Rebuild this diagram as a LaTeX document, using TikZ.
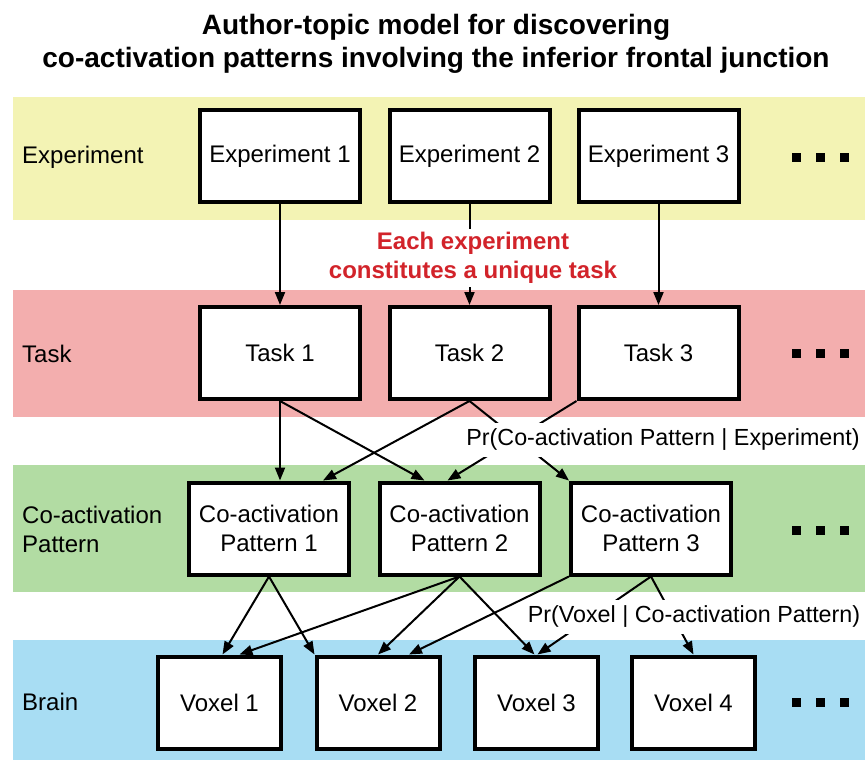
\documentclass[tikz,border=0pt]{standalone}
\usepackage{fontspec}
\setmainfont{Liberation Sans}
\usetikzlibrary{arrows.meta,calc}
\definecolor{yellowbg}{HTML}{F3F3B4}
\definecolor{redbg}{HTML}{F3AEAE}
\definecolor{greenbg}{HTML}{B2DCA3}
\definecolor{bluebg}{HTML}{A8DDF3}
\definecolor{redtext}{HTML}{D2232A}
\begin{document}
\begin{tikzpicture}[x=1pt,y=-1pt,
  box/.style={draw, line width=4pt, fill=white, minimum width=160pt, minimum height=92pt,
    inner sep=0pt, align=center, font=\fontsize{24}{29}\selectfont},
  vbox/.style={box, minimum width=123pt},
  rowlbl/.style={anchor=west, align=left, inner sep=0pt, font=\fontsize{24}{29}\selectfont},
  conn/.style={line width=2pt, -{Triangle[length=13pt,width=10pt]}},
  prlbl/.style={fill=white, inner xsep=1pt, inner ysep=6pt, font=\fontsize{23.3}{28}\selectfont},
  dotsq/.style={fill=black, minimum size=9pt, inner sep=0pt}
]
\useasboundingbox (0,0) rectangle (865,760);

% bands
\fill[yellowbg] (13,97) rectangle (865,220);
\fill[redbg] (13,290) rectangle (865,417);
\fill[greenbg] (13,465) rectangle (865,592);
\fill[bluebg] (13,640) rectangle (865,760);

% title
\node[align=center, inner sep=0pt, font=\fontsize{28}{33}\selectfont\bfseries] (title) at (436,44)
  {Author-topic model for discovering\\co-activation patterns involving the inferior frontal junction};

% row labels
\node[rowlbl] (lexp) at (22,157) {Experiment};
\node[rowlbl] (ltask) at (22,354) {Task};
\node[rowlbl] (lcp) at (22,529) {Co-activation\\Pattern};
\node[rowlbl] (lbrain) at (22,702) {Brain};

% boxes
\node[box] (e1) at (280,156) {Experiment 1};
\node[box] (e2) at (469.5,156) {Experiment 2};
\node[box] (e3) at (658.5,156) {Experiment 3};

\node[box] (t1) at (280,353) {Task 1};
\node[box] (t2) at (469.5,353) {Task 2};
\node[box] (t3) at (658.5,353) {Task 3};

\node[box] (c1) at (269,528.5) {Co-activation\\Pattern 1};
\node[box] (c2) at (459.5,528.5) {Co-activation\\Pattern 2};
\node[box] (c3) at (651,528.5) {Co-activation\\Pattern 3};

\node[vbox] (v1) at (219.5,702.5) {Voxel 1};
\node[vbox] (v2) at (378,702.5) {Voxel 2};
\node[vbox] (v3) at (536.5,702.5) {Voxel 3};
\node[vbox] (v4) at (693.5,702.5) {Voxel 4};

% dots
\foreach \yy/\nm in {157/a,353/b,530/c,702/d}{
  \node[dotsq] (d1\nm) at (796,\yy) {};
  \node[dotsq] (d2\nm) at (820,\yy) {};
  \node[dotsq] (d3\nm) at (844,\yy) {};
}

% experiment -> task
\draw[conn] (e1.south) -- (t1.north);
\draw[conn] (e2.south) -- (t2.north);
\draw[conn] (e3.south) -- (t3.north);
\node[fill=white, inner xsep=2pt, inner ysep=3pt, align=center, text=redtext,
  font=\fontsize{24}{29}\selectfont\bfseries] (note) at (473,258)
  {Each experiment\\constitutes a unique task};

% task -> co-activation pattern
\draw[conn] (t1.south) -- (t1.south |- c1.north);
\draw[conn] (t1.south) -- ($(c2.north)+(-35,0)$);
\draw[conn] (t2.south) -- ($(c1.north)+(54,0)$);
\draw[conn] (t2.south) -- (c3.north west);
\draw[conn] (t3.south west) -- ($(c2.north)+(-12,0)$);
\node[prlbl] (pr1) at (663,440) {Pr(Co-activation Pattern | Experiment)};

% co-activation pattern -> voxel
\draw[conn] (c1.south) -- ($(v1.north)+(3,0)$);
\draw[conn] (c1.south) -- (v2.north west);
\draw[conn] (c2.south) -- ($(v1.north)+(20,0)$);
\draw[conn] (c2.south) -- (v2.north);
\draw[conn] (c2.south) -- ($(v3.north)+(-2,0)$);
\draw[conn] (c3.south) -- ($(v3.north)+(1,0)$);
\draw[conn] (c3.south) -- (v4.north);
\node[prlbl] (pr2) at (694,617) {Pr(Voxel | Co-activation Pattern)};
\draw[conn] (c3.south west) -- ($(v2.north)+(31,0)$);
\end{tikzpicture}
\end{document}
